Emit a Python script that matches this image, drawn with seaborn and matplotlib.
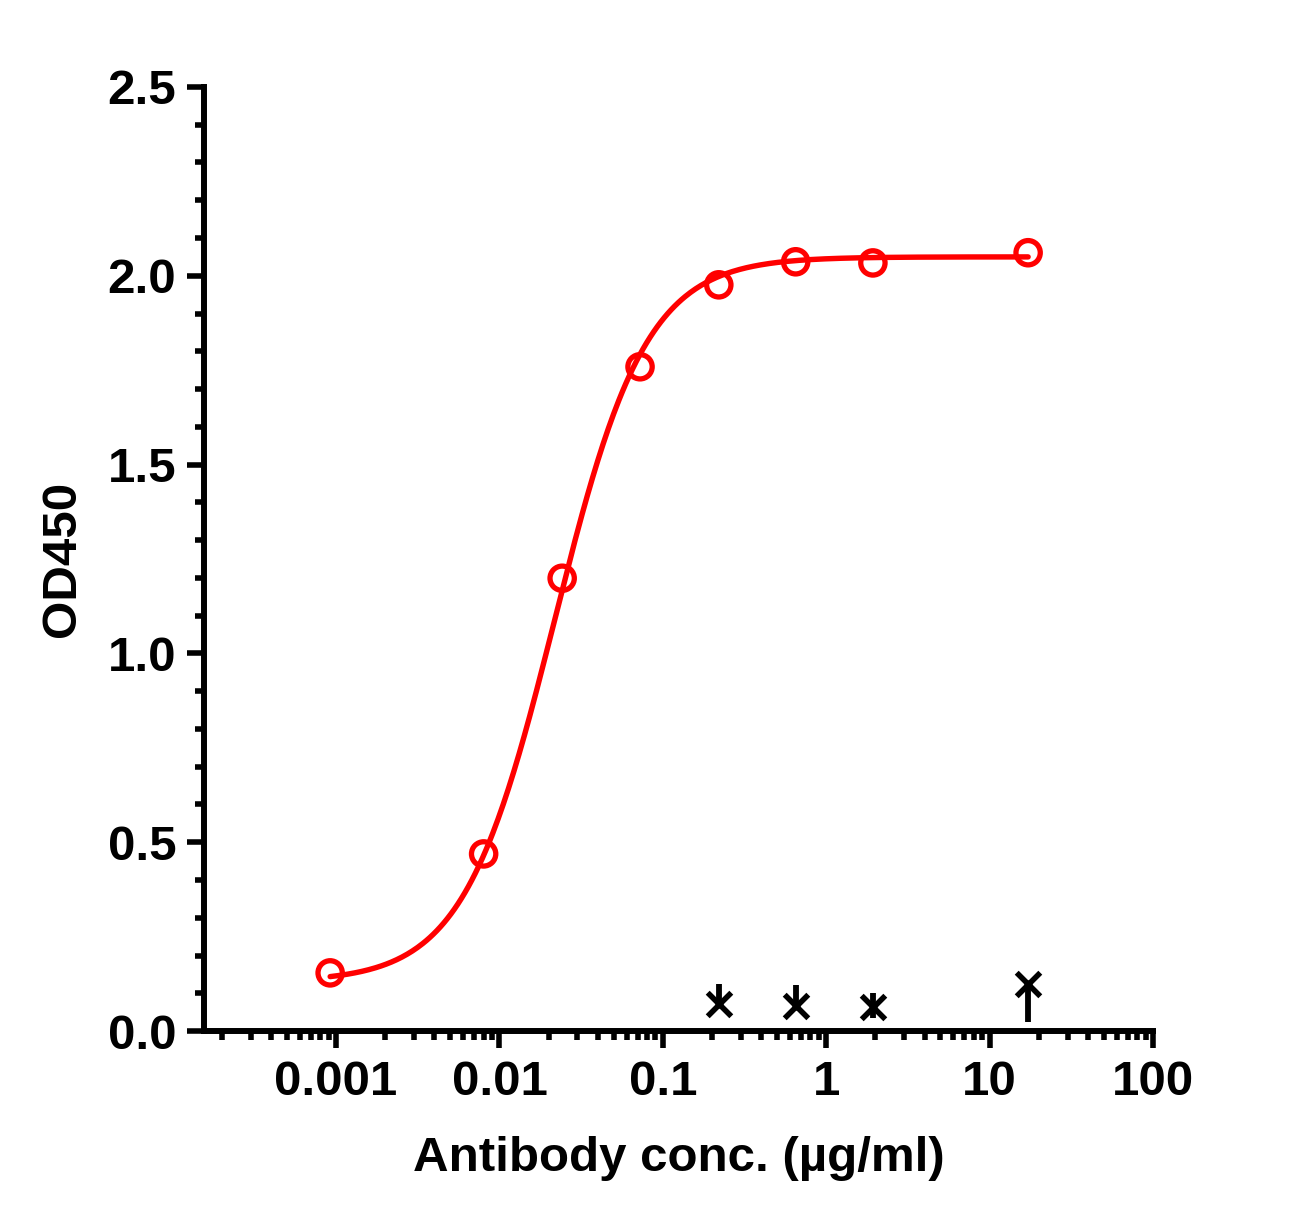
import numpy as np
import matplotlib
matplotlib.use("Agg")
import matplotlib.pyplot as plt
from matplotlib.ticker import FixedLocator, FixedFormatter, LogLocator, MultipleLocator, NullFormatter
import seaborn as sns

# antibody binding (red open circles)
conc = [0.00092, 0.0080, 0.0242, 0.0725, 0.22, 0.65, 1.93, 17.2]
od450 = [0.154, 0.469, 1.199, 1.759, 1.976, 2.037, 2.034, 2.061]

# control (black crosses) with error bars
ctrl_conc = [0.22, 0.65, 1.93, 17.2]
ctrl_od = [0.072, 0.066, 0.064, 0.125]
ctrl_err_lo = [0.0, 0.0, 0.030, 0.101]
ctrl_err_hi = [0.053, 0.056, 0.037, 0.0]

# 4PL fit parameters estimated from the drawn curve
fit_bottom = 0.13
fit_top = 2.05
fit_ec50 = 0.0218
fit_hill = 1.55

xticks = [0.001, 0.01, 0.1, 1, 10, 100]
xticklabels = ['0.001', '0.01', '0.1', '1', '10', '100']
yticks = [0.0, 0.5, 1.0, 1.5, 2.0, 2.5]
yticklabels = ['0.0', '0.5', '1.0', '1.5', '2.0', '2.5']

sns.set_style('ticks')
plt.rcParams['font.family'] = ['Liberation Sans', 'DejaVu Sans']
plt.rcParams['font.weight'] = 'bold'
plt.rcParams['axes.labelweight'] = 'bold'
plt.rcParams['text.color'] = 'black'
plt.rcParams['axes.labelcolor'] = 'black'

fig = plt.figure(figsize=(13.03, 12.28), dpi=100)
ax = fig.add_axes([0.1566, 0.1604, 0.7283, 0.7688])
ax.set_xscale('log')

xs = np.logspace(np.log10(conc[0]), np.log10(conc[-1]), 400)
ys = fit_bottom + (fit_top - fit_bottom) / (1 + (fit_ec50 / xs) ** fit_hill)
sns.lineplot(x=xs, y=ys, color='#ff0000', linewidth=3.9, ax=ax, zorder=2)

sns.scatterplot(x=conc, y=od450, marker='o', s=17.5 ** 2, fc='none', ec='#ff0000',
                linewidth=3.8, ax=ax, zorder=3)

ax.errorbar(ctrl_conc, ctrl_od, yerr=[ctrl_err_lo, ctrl_err_hi], fmt='none',
            ecolor='black', elinewidth=4.2, capsize=0, zorder=4)
sns.scatterplot(x=ctrl_conc, y=ctrl_od, marker='x', s=17 ** 2, color='black',
                linewidth=4, ax=ax, zorder=5)

ax.set_xlim(1.556e-4, 100)
ax.set_ylim(0, 2.5)

ax.xaxis.set_major_locator(FixedLocator(xticks))
ax.xaxis.set_major_formatter(FixedFormatter(xticklabels))
ax.xaxis.set_minor_locator(LogLocator(base=10, subs=np.arange(2, 10), numticks=20))
ax.xaxis.set_minor_formatter(NullFormatter())
ax.yaxis.set_major_locator(FixedLocator(yticks))
ax.yaxis.set_major_formatter(FixedFormatter(yticklabels))
ax.yaxis.set_minor_locator(MultipleLocator(0.1))

sns.despine(ax=ax)
for side in ('left', 'bottom'):
    ax.spines[side].set_linewidth(4.3)
    ax.spines[side].set_color('black')

ax.tick_params(axis='both', which='major', direction='out', length=12, width=4,
               color='black', labelsize=35.5, labelcolor='black')
ax.tick_params(axis='both', which='minor', direction='out', length=6.5, width=4, color='black')
ax.tick_params(axis='x', which='major', pad=9)
ax.tick_params(axis='y', which='major', pad=8)

ax.set_xlabel('Antibody conc. (µg/ml)', fontsize=35.5, labelpad=22)
ax.set_ylabel('OD450', fontsize=35.5, labelpad=16)

fig.savefig('out.png', dpi=100)
